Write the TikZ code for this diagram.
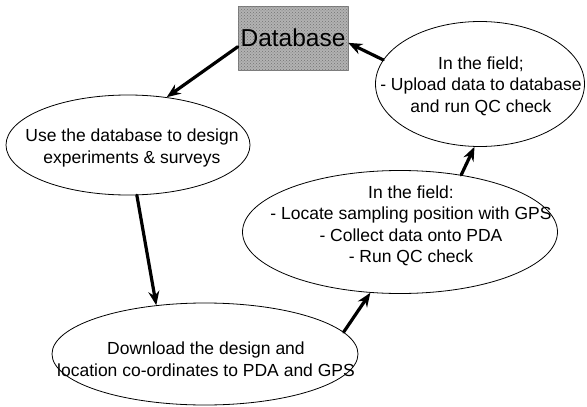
\documentclass[tikz,border=0pt]{standalone}
\usepackage{fontspec}
\setmainfont{Liberation Sans}
\usetikzlibrary{shapes.geometric,arrows.meta,patterns}

\begin{document}
\begin{tikzpicture}[
	x=1pt, y=-1pt,
	>={Stealth[length=14pt,width=11pt]},
	line cap=round,
	line join=round,
	stage/.style={ellipse,draw,line width=0.8pt,inner sep=0pt},
	words/.style={align=center,inner sep=0pt,font=\fontsize{17.5}{21.5}\selectfont}
	]
	\useasboundingbox (0,0) rectangle (587,407);
	\node[draw=black!50,fill=black!30,postaction={pattern=crosshatch dots,pattern color=black!55},minimum width=110pt,minimum height=64pt,inner sep=0pt,font=\fontsize{24.5}{28}\selectfont] (db) at (293,38) {Database};
	\node[stage,minimum width=244pt,minimum height=100pt] (design) at (128,145) {};
	\node[stage,minimum width=209pt,minimum height=125pt] (upload) at (480,84) {};
	\node[stage,minimum width=315pt,minimum height=123pt] (collect) at (400,232) {};
	\node[stage,minimum width=306pt,minimum height=102pt] (download) at (205,354) {};
	\node[words] (designtext) at (132,148) {Use the database to design\\experiments \& surveys};
	\node[words] (uploadtext) at (481,86) {In the field;\\- Upload data to database\\and run QC check};
	\node[words] (collecttext) at (411,226) {In the field:\\- Locate sampling position with GPS\\- Collect data onto PDA\\- Run QC check};
	\node[words] (downloadtext) at (206,359) {Download the design and\\location co-ordinates to PDA and GPS};
	\begin{scope}[->,line width=3.2pt]
		\draw (db.189) -- (design.51);
		\draw (design.280) -- (download.135);
		\draw (download.9) -- (collect.244);
		\draw (collect.43) -- (upload.265);
		\draw (upload.166) -- (db.355);
	\end{scope}
\end{tikzpicture}
\end{document}
